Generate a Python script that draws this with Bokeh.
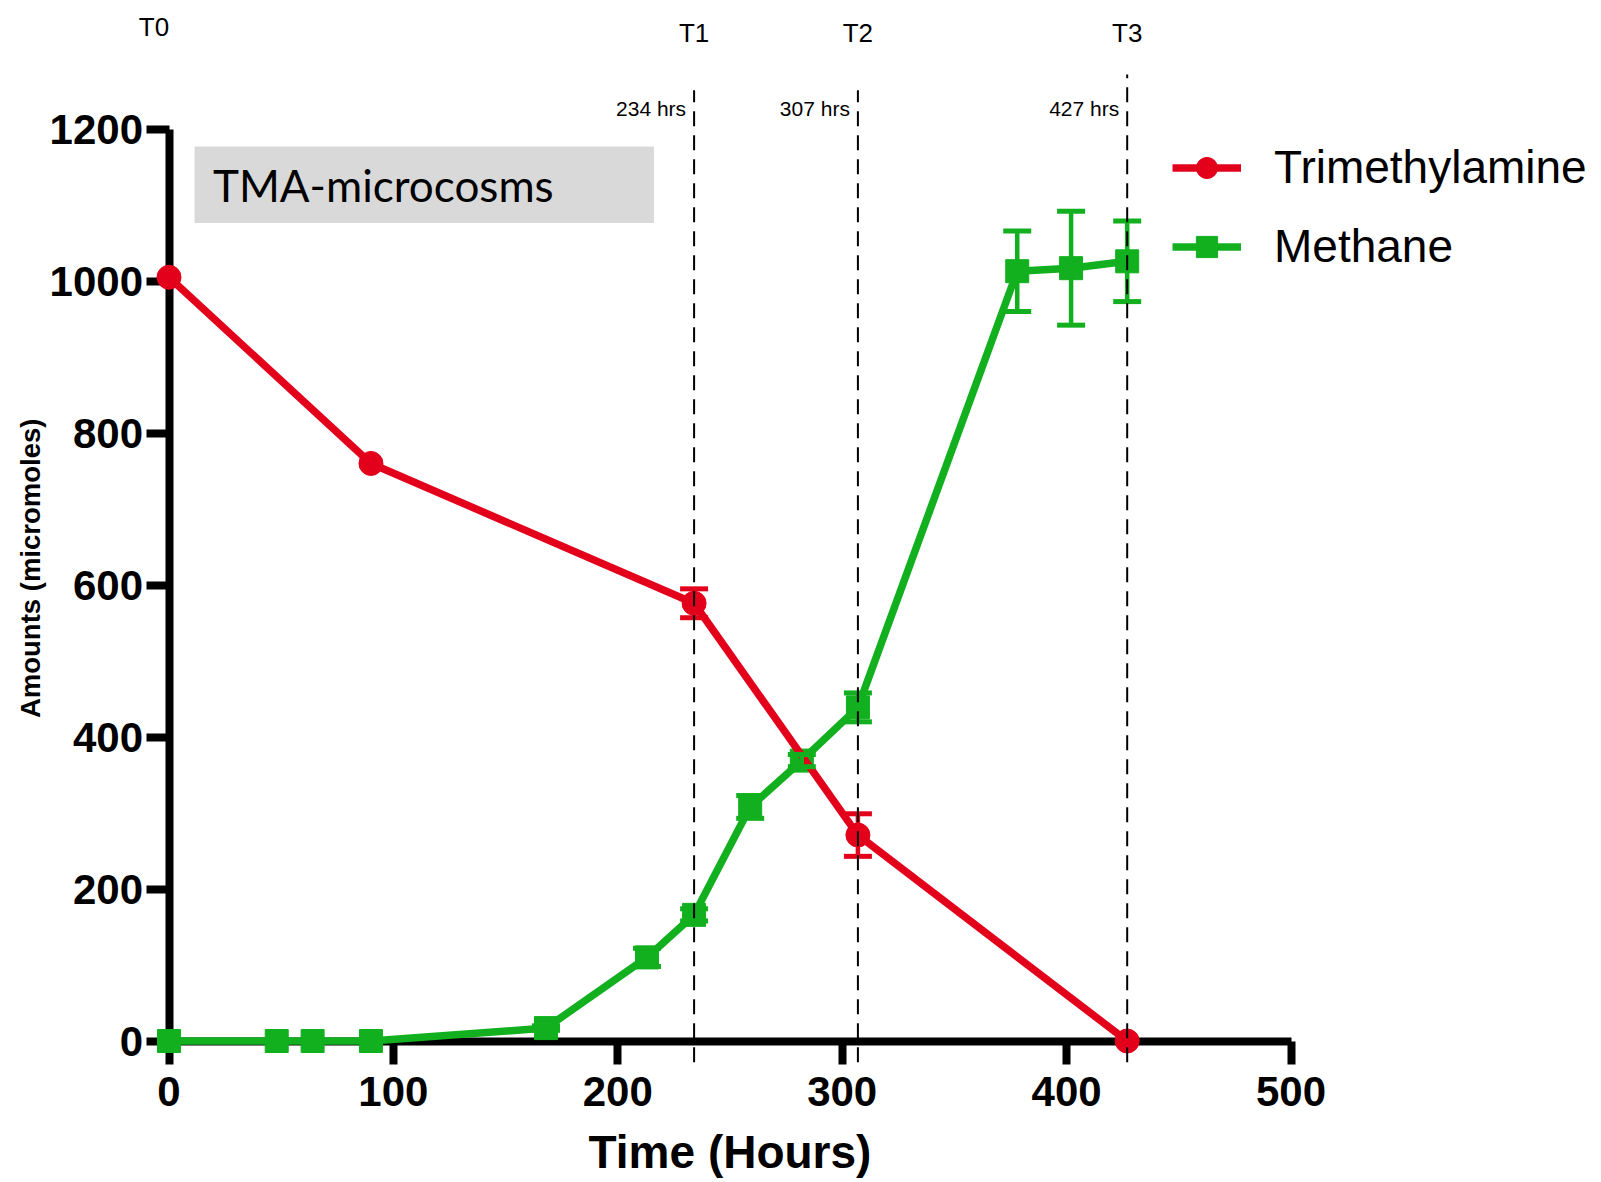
import numpy as np
from bokeh.plotting import figure
from bokeh.models import (Range1d, LinearAxis, FixedTicker, ColumnDataSource,
                          Whisker, TeeHead, Legend, LegendItem, Label, BoxAnnotation)
from bokeh.embed import file_html
from bokeh.resources import INLINE

# ---- data ----
tma_hours = [0, 90, 234, 307, 427]
tma_umol = [1005, 760, 576, 271, 0]
tma_err = [0, 0, 19, 28, 0]

ch4_hours = [0, 48, 64, 90, 168, 213, 234, 259, 282, 307, 378, 402, 427]
ch4_umol = [0, 0, 0, 0, 17, 110, 166, 308, 369, 439, 1013, 1017, 1026]
ch4_err = [0, 0, 0, 0, 3, 12, 8, 15, 8, 19, 53, 75, 53]

time_points = [0, 234, 307, 427]
time_names = ["T0", "T1", "T2", "T3"]

x_ticks = [0, 100, 200, 300, 400, 500]
y_ticks = [0, 200, 400, 600, 800, 1000, 1200]

RED = "#E3001B"
GREEN = "#12B01F"
FONT = "Liberation Sans"

W, H = 1598, 1182
PX_X = 2.244      # pixels per hour
PX_Y = 0.75992    # pixels per micromole
X0_PX, Y0_PX = 168.5, 1040.5   # where the origin sits on the canvas
x_start = -X0_PX / PX_X
y_end = Y0_PX / PX_Y

p = figure(width=W, height=H,
           x_range=Range1d(x_start, x_start + W / PX_X),
           y_range=Range1d(y_end - H / PX_Y, y_end),
           output_backend="svg", toolbar_location=None,
           x_axis_location=None, y_axis_location=None,
           min_border=0, min_border_left=0, min_border_right=0,
           min_border_top=0, min_border_bottom=0)
p.outline_line_color = None
p.grid.visible = False
p.background_fill_color = "white"
p.border_fill_color = "white"


def style_axis(ax, standoff):
    ax.axis_line_width = 8
    ax.axis_line_color = "black"
    ax.major_tick_line_width = 8
    ax.major_tick_line_color = "black"
    ax.major_tick_out = 23
    ax.major_tick_in = 0
    ax.minor_tick_line_color = None
    ax.major_label_text_font = FONT
    ax.major_label_text_font_style = "bold"
    ax.major_label_text_font_size = "42px"
    ax.major_label_text_color = "black"
    ax.major_label_standoff = standoff
    ax.level = "underlay"


xaxis = LinearAxis(fixed_location=0, bounds=(x_ticks[0], x_ticks[-1]),
                   ticker=FixedTicker(ticks=x_ticks, minor_ticks=[]))
style_axis(xaxis, 13)
p.add_layout(xaxis, "below")

yaxis = LinearAxis(fixed_location=0, bounds=(y_ticks[0], y_ticks[-1]),
                   ticker=FixedTicker(ticks=y_ticks, minor_ticks=[]))
style_axis(yaxis, 3)
p.add_layout(yaxis, "left")

# grey title box
box = BoxAnnotation(left=11.4, right=216.1, bottom=1076.3, top=1177.1,
                    fill_color="#D9D9D9", fill_alpha=1.0, line_color=None,
                    level="underlay")
p.add_layout(box)
p.add_layout(Label(x=19.6, y=1126.5, text="TMA-microcosms", text_font="Lato",
                   text_font_size="44px", text_color="black",
                   text_baseline="middle", text_align="left"))

# methane
ch4_line = p.line(ch4_hours, ch4_umol, line_width=7.5, line_color=GREEN)
ch4_pts = p.scatter(ch4_hours, ch4_umol, marker="square", size=23,
                    fill_color=GREEN, line_color=GREEN)
ch4_h = np.array(ch4_hours, dtype=float)
ch4_v = np.array(ch4_umol, dtype=float)
ch4_e = np.array(ch4_err, dtype=float)
m = ch4_e > 0
ch4_src = ColumnDataSource(dict(x=ch4_h[m], upper=(ch4_v + ch4_e)[m], lower=(ch4_v - ch4_e)[m]))
p.add_layout(Whisker(base="x", upper="upper", lower="lower", source=ch4_src,
                     dimension="height", line_color=GREEN, line_width=4.5,
                     upper_head=TeeHead(size=28, line_color=GREEN, line_width=5),
                     lower_head=TeeHead(size=28, line_color=GREEN, line_width=5),
                     level="annotation"))

# trimethylamine
tma_line = p.line(tma_hours, tma_umol, line_width=7.5, line_color=RED)
tma_pts = p.scatter(tma_hours, tma_umol, marker="circle", size=24,
                    fill_color=RED, line_color=RED)
tma_h = np.array(tma_hours, dtype=float)
tma_v = np.array(tma_umol, dtype=float)
tma_e = np.array(tma_err, dtype=float)
m2 = tma_e > 0
tma_src = ColumnDataSource(dict(x=tma_h[m2], upper=(tma_v + tma_e)[m2], lower=(tma_v - tma_e)[m2]))
p.add_layout(Whisker(base="x", upper="upper", lower="lower", source=tma_src,
                     dimension="height", line_color=RED, line_width=4.5,
                     upper_head=TeeHead(size=28, line_color=RED, line_width=5),
                     lower_head=TeeHead(size=28, line_color=RED, line_width=5),
                     level="annotation"))

# dashed time-point lines
tp = time_points[1:]
tops = [1251 if t < 400 else 1272 for t in tp]
dash = p.segment(x0=tp, y0=[-28] * len(tp), x1=tp, y1=tops,
                 line_color="black", line_width=2, line_dash="15 9")
dash.level = "overlay"

# time-point labels
for t, name in zip(time_points, time_names):
    is_first = (t == time_points[0])
    p.add_layout(Label(x=t, y=1335 if is_first else 1327, text=name,
                       x_offset=-15 if is_first else 0,
                       text_font=FONT, text_font_size="26px", text_color="black",
                       text_align="center", text_baseline="middle"))
    if not is_first:
        p.add_layout(Label(x=t, y=1227, text=f"{t} hrs", x_offset=-8,
                           text_font=FONT, text_font_size="21px", text_color="black",
                           text_align="right", text_baseline="middle"))

# axis titles
p.add_layout(Label(x=250, y=-146.5, text="Time (Hours)", text_font=FONT,
                   text_font_style="bold", text_font_size="46px", text_color="black",
                   text_align="center", text_baseline="middle"))
p.add_layout(Label(x=-61.7, y=622, text="Amounts (micromoles)", text_font=FONT,
                   text_font_style="bold", text_font_size="27.5px", text_color="black",
                   text_align="center", text_baseline="middle", angle=np.pi / 2))

legend = Legend(items=[LegendItem(label="Trimethylamine", renderers=[tma_line, tma_pts]),
                       LegendItem(label="Methane", renderers=[ch4_line, ch4_pts])],
                location=(1172, 909), orientation="vertical",
                padding=0, margin=0, spacing=25,
                glyph_width=69, glyph_height=53, label_height=53,
                label_standoff=33, label_text_font=FONT,
                label_text_font_size="46px", label_text_color="black",
                border_line_color=None, background_fill_alpha=0)
p.add_layout(legend)

open("out.html", "w").write(file_html(p, INLINE))
